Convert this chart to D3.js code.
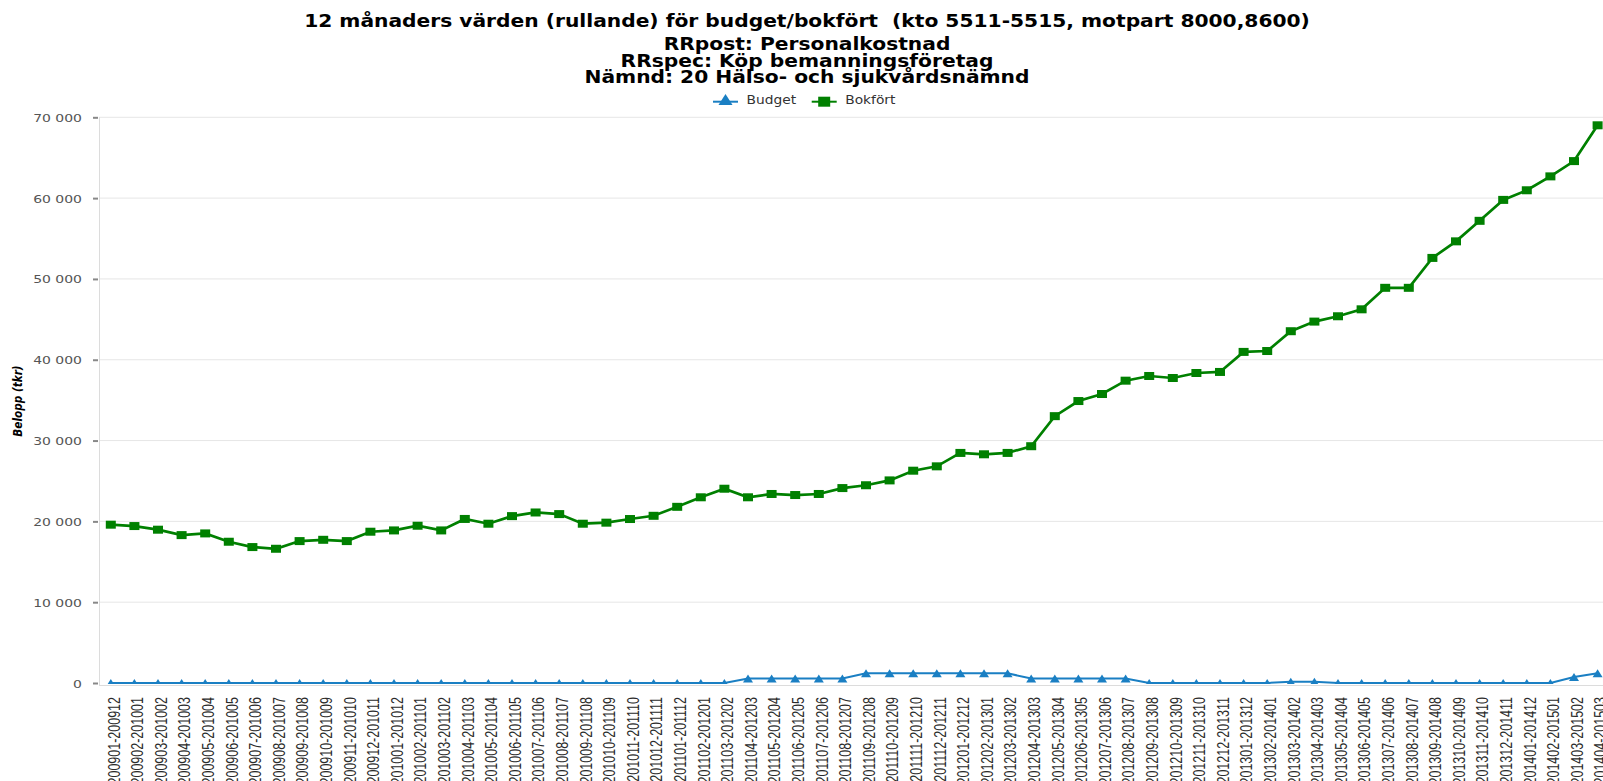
<!DOCTYPE html>
<html><head><meta charset="utf-8">
<script src="https://cdnjs.cloudflare.com/ajax/libs/d3/7.8.5/d3.min.js"></script>
<style>html,body{margin:0;padding:0;background:#fff;overflow:hidden}</style>
</head><body>
<svg id="c" width="1603" height="781"></svg>
<script>
const categories = [
"200901-200912","200902-201001","200903-201002","200904-201003","200905-201004","200906-201005","200907-201006","200908-201007","200909-201008","200910-201009","200911-201010","200912-201011",
"201001-201012","201002-201101","201003-201102","201004-201103","201005-201104","201006-201105","201007-201106","201008-201107","201009-201108","201010-201109","201011-201110","201012-201111",
"201101-201112","201102-201201","201103-201202","201104-201203","201105-201204","201106-201205","201107-201206","201108-201207","201109-201208","201110-201209","201111-201210","201112-201211",
"201201-201212","201202-201301","201203-201302","201204-201303","201205-201304","201206-201305","201207-201306","201208-201307","201209-201308","201210-201309","201211-201310","201212-201311",
"201301-201312","201302-201401","201303-201402","201304-201403","201305-201404","201306-201405","201307-201406","201308-201407","201309-201408","201310-201409","201311-201410","201312-201411",
"201401-201412","201402-201501","201403-201502","201404-201503"];
const budget = [
0,0,0,0,0,0,0,0,0,0,0,0,
0,0,0,0,0,0,0,0,0,0,0,0,
0,0,0,550,550,550,550,550,1200,1200,1200,1200,
1200,1200,1200,550,550,550,550,550,0,0,0,0,
0,0,150,150,0,0,0,0,0,0,0,0,
0,0,750,1200];
const bokfort = [
19590,19420,18970,18300,18510,17480,16820,16610,17560,17720,17560,18720,
18880,19460,18880,20300,19710,20650,21100,20900,19710,19840,20290,20690,
21800,22980,24040,22980,23390,23260,23390,24120,24470,25070,26270,26810,
28470,28300,28470,29300,33020,34890,35760,37410,37990,37740,38360,38490,
40970,41080,43530,44720,45380,46240,48900,48900,52600,54650,57190,59780,
60970,62690,64580,69010];
const yTicks = [0,10000,20000,30000,40000,50000,60000,70000];
const titleMain = "12 månaders värden (rullande) för budget/bokfört  (kto 5511-5515, motpart 8000,8600)";
const subtitleLines = ["RRpost: Personalkostnad","RRspec: Köp bemanningsföretag","Nämnd: 20 Hälso- och sjukvårdsnämnd"];
const yAxisTitle = "Belopp (tkr)";
const seriesNames = ["Budget","Bokfört"];
const seriesColors = ["#1a7fc3","#008000"];

const SX = 1.25;
const svg = d3.select("#c");
const pLeft = 99, catW = 23.6, pTop = 117.3, pBottom = 683;
const pRight = pLeft + catW*categories.length;
const x = d3.scaleBand().domain(categories).range([pLeft, pRight]).padding(0);
const cx = d => x(d) + x.bandwidth()/2;
const y = d3.scaleLinear().domain([0,70000]).range([pBottom, pTop]);

// grid lines
svg.append("g").selectAll("line").data(yTicks.filter(t=>t>0)).join("line")
  .attr("x1", pLeft).attr("x2", pRight)
  .attr("y1", d=>y(d)).attr("y2", d=>y(d))
  .attr("stroke","#e6e6e6").attr("stroke-width",1);

// x axis line
svg.append("line").attr("x1",pLeft).attr("x2",pRight)
  .attr("y1",pBottom+2.5).attr("y2",pBottom+2.5).attr("stroke","#dcdcdc").attr("stroke-width",1);
// y axis line
svg.append("line").attr("x1",pLeft+0.5).attr("x2",pLeft+0.5).attr("y1",pTop).attr("y2",pBottom+3)
  .attr("stroke","#dcdcdc").attr("stroke-width",1);

// y axis
const fmt = v => d3.format(",")(v).replace(/,/g," ");
const yAxis = svg.append("g").attr("transform",`translate(${pLeft},0)`)
  .call(d3.axisLeft(y).tickValues(yTicks).tickFormat(fmt).tickSize(6).tickPadding(0));
yAxis.select(".domain").remove();
yAxis.selectAll(".tick line").attr("stroke","#888").attr("stroke-width",2).attr("x1",-6).attr("x2",-1);
yAxis.selectAll(".tick text").attr("x",null).attr("dy",null)
  .attr("transform","translate(-17,4) scale(1.27,1)")
  .attr("fill","#555").style("font-family","DejaVu Sans").style("font-size","11px").attr("text-anchor","end");

// x axis
const xAxis = svg.append("g").attr("transform",`translate(0,${pBottom})`)
  .call(d3.axisBottom(x).tickSize(0));
xAxis.select(".domain").remove();
xAxis.selectAll(".tick text").attr("y",null).attr("dy",null).attr("x",null)
  .attr("text-anchor","end")
  .attr("transform",`translate(8.8,${697-pBottom}) scale(${SX},1) rotate(-90)`)
  .attr("fill","#2b2b2b").style("font-family","Liberation Sans").style("font-size","12.5px");

// y axis title
svg.append("text").text(yAxisTitle)
  .attr("transform",`translate(21.5,401) scale(1.2,1) rotate(-90)`)
  .attr("text-anchor","middle").style("font-family","DejaVu Sans").style("font-weight","bold")
  .style("font-style","italic").style("font-size","10.5px").attr("fill","#000");

// clip
const defs = svg.append("defs");
defs.append("clipPath").attr("id","plotclip").append("rect")
  .attr("x",pLeft).attr("y",pTop-10).attr("width",pRight-pLeft+10).attr("height",pBottom-pTop+11);

const plot = svg.append("g").attr("clip-path","url(#plotclip)");
const line = d3.line().x((d,i)=>cx(categories[i])).y(d=>y(d));

// Budget
plot.append("path").datum(budget).attr("d",line).attr("fill","none")
  .attr("stroke",seriesColors[0]).attr("stroke-width",2);
const tri = (r) => `M0,${-r}L${r*SX},${r}L${-r*SX},${r}Z`;
plot.append("g").selectAll("path").data(budget).join("path")
  .attr("d",tri(4)).attr("fill",seriesColors[0])
  .attr("transform",(d,i)=>`translate(${cx(categories[i])},${y(d)})`);

// Bokfört
plot.append("path").datum(bokfort).attr("d",line).attr("fill","none")
  .attr("stroke",seriesColors[1]).attr("stroke-width",2.7);
svg.append("g").selectAll("rect").data(bokfort).join("rect")
  .attr("x",(d,i)=>cx(categories[i])-5).attr("y",d=>y(d)-4)
  .attr("width",10).attr("height",8).attr("fill",seriesColors[1]);

// titles
svg.append("text").text(titleMain)
  .attr("transform","translate(807,27) scale(1.19,1)")
  .attr("text-anchor","middle").style("white-space","pre")
  .style("font-family","DejaVu Sans").style("font-weight","bold").style("font-size","17px").attr("fill","#000");
const subY = [49.6,66.5,83.3];
subtitleLines.forEach((t,i)=>{
  svg.append("text").text(t).attr("transform",`translate(807,${subY[i]}) scale(1.19,1)`)
    .attr("text-anchor","middle")
    .style("font-family","DejaVu Sans").style("font-weight","bold").style("font-size","17px").attr("fill","#000");
});

// legend
const leg = svg.append("g");
const legItems = [{x:713, name:seriesNames[0], color:seriesColors[0], sym:"tri"},
                  {x:811.7, name:seriesNames[1], color:seriesColors[1], sym:"sq"}];
legItems.forEach(it=>{
  leg.append("line").attr("x1",it.x).attr("x2",it.x+25).attr("y1",101.7).attr("y2",101.7)
    .attr("stroke",it.color).attr("stroke-width",2);
  if(it.sym==="tri"){
    leg.append("path").attr("d",`M0,-6L7,5L-7,5Z`).attr("fill",it.color)
      .attr("transform",`translate(${it.x+12.5},100)`);
  } else {
    leg.append("rect").attr("x",it.x+6.5).attr("y",96.7).attr("width",12).attr("height",10).attr("fill",it.color);
  }
  leg.append("text").text(it.name).attr("transform",`translate(${it.x+33.5},103.5) scale(1.15,1)`)
    .style("font-family","DejaVu Sans").style("font-size","12px").attr("fill","#333");
});
</script>
</body></html>
